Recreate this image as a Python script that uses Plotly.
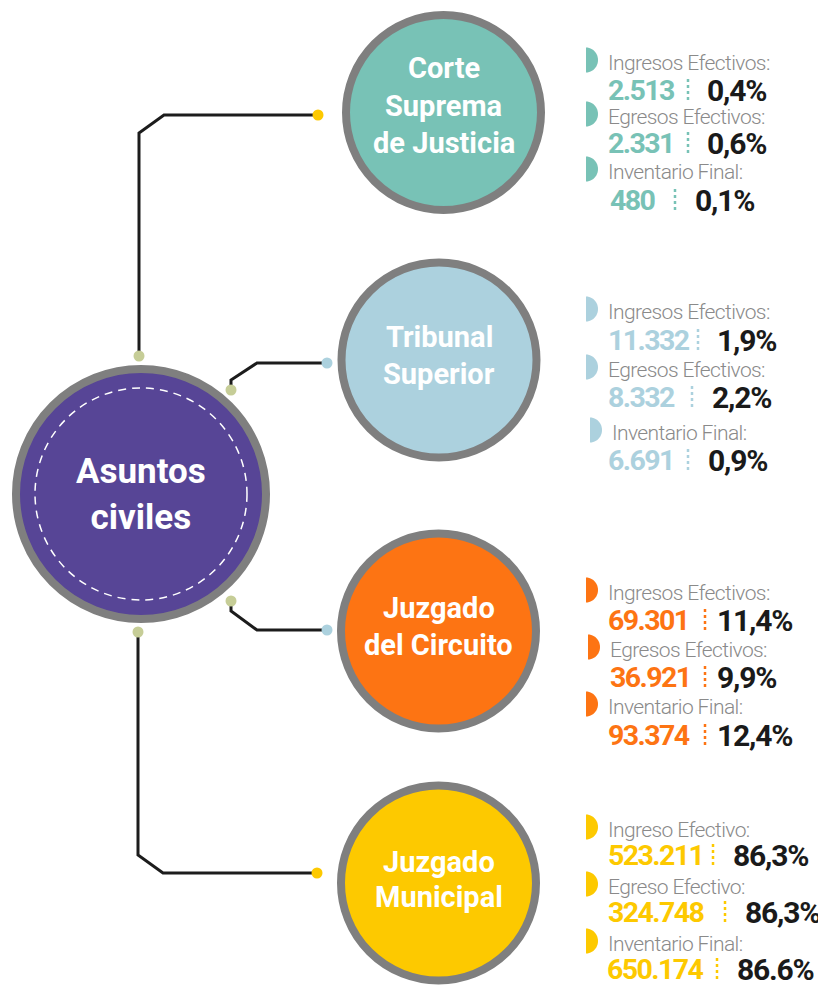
import numpy as np
import plotly.graph_objects as go

# ---------------- data ----------------
main_title = "Asuntos<br>civiles"
courts = ["Corte<br>Suprema<br>de Justicia", "Tribunal<br>Superior",
          "Juzgado<br>del Circuito", "Juzgado<br>Municipal"]
court_colors = ["#78c2b6", "#acd1de", "#fd7413", "#fdc900"]
stat_labels = [
    ["Ingresos Efectivos:", "Egresos Efectivos:", "Inventario Final:"],
    ["Ingresos Efectivos:", "Egresos Efectivos:", "Inventario Final:"],
    ["Ingresos Efectivos:", "Egresos Efectivos:", "Inventario Final:"],
    ["Ingreso Efectivo:", "Egreso Efectivo:", "Inventario Final:"],
]
stat_values = [
    ["2.513", "2.331", "480"],
    ["11.332", "8.332", "6.691"],
    ["69.301", "36.921", "93.374"],
    ["523.211", "324.748", "650.174"],
]
stat_pcts = [
    ["0,4%", "0,6%", "0,1%"],
    ["1,9%", "2,2%", "0,9%"],
    ["11,4%", "9,9%", "12,4%"],
    ["86,3%", "86,3%", "86.6%"],
]

# ---------------- layout (pixel positions in the 826x987 window) ----------------
W, H = 826, 987
PAGE_MARGIN = 8  # default body margin of the html page
BOLD = "Roboto, sans-serif"
LIGHT = "Roboto, sans-serif"
RING = "#7f7f7f"
DOT_GREEN = "#c6cd97"
LINE = "#1c1c1c"

main_c, main_r = (141, 494), 129
court_c = [(443.5, 112.5), (439, 360), (438.5, 631), (438.5, 883)]
court_r = 101.5
court_text_y = [[68, 106, 143], [337, 374], [608, 645], [862, 897]]

label_y = [[63, 117, 172], [312, 370, 433], [593, 650, 707], [830, 887, 944]]
value_y = [[90, 143, 200], [340, 397, 460], [620, 677, 735], [855, 912, 969]]
label_x = [[608, 608, 608], [608, 608, 612], [608, 610, 608], [608, 608, 608]]
value_x = [[608, 608, 610], [608, 608, 608], [608, 610, 608], [608, 608, 607]]
sep_x = [[688, 688, 675], [698, 692, 688], [705, 705, 705], [713, 725, 717]]
pct_x = [[707, 707, 695], [717, 712, 708], [717, 717, 717], [733, 745, 737]]


def tight(txt, spacing, bold=False):
    inner = "<b>" + txt + "</b>" if bold else txt
    return f"<span style='letter-spacing:{spacing}px'>{inner}</span>"


fig = go.Figure()
shapes = []
annotations = []

# connectors
connectors = [
    ([139, 139, 164, 318], [356, 133, 115, 115], DOT_GREEN, court_colors[3]),
    ([231, 231, 257, 327], [390, 380, 363, 363], DOT_GREEN, court_colors[1]),
    ([231, 231, 257, 327], [601, 611, 630, 630], DOT_GREEN, court_colors[1]),
    ([138, 138, 163, 317], [632, 855, 873, 873], DOT_GREEN, court_colors[3]),
]
for xs, ys, c0, c1 in connectors:
    fig.add_trace(go.Scatter(x=xs, y=ys, mode="lines",
                             line=dict(color=LINE, width=3), hoverinfo="skip",
                             showlegend=False))
    fig.add_trace(go.Scatter(x=[xs[0], xs[-1]], y=[ys[0], ys[-1]], mode="markers",
                             marker=dict(size=11, color=[c0, c1]),
                             hoverinfo="skip", showlegend=False))

# main circle
mx, my = main_c
shapes.append(dict(type="circle", xref="x", yref="y", x0=mx - main_r + 4, x1=mx + main_r - 4,
                   y0=my - main_r + 4, y1=my + main_r - 4, fillcolor="#574596",
                   line=dict(color=RING, width=8), layer="above"))
shapes.append(dict(type="circle", xref="x", yref="y", x0=mx - 106, x1=mx + 106,
                   y0=my - 106, y1=my + 106, fillcolor="rgba(0,0,0,0)",
                   line=dict(color="white", width=1.5, dash="8px,6px"), layer="above"))
annotations.append(dict(x=mx, y=my, xref="x", yref="y", text="<b>" + main_title + "</b>",
                        showarrow=False, font=dict(family=BOLD, size=35, color="white"),
                        align="center", xanchor="center", yanchor="middle"))

# court circles
for i, name in enumerate(courts):
    cx, cy = court_c[i]
    shapes.append(dict(type="circle", xref="x", yref="y", x0=cx - court_r + 4, x1=cx + court_r - 4,
                       y0=cy - court_r + 4, y1=cy + court_r - 4, fillcolor=court_colors[i],
                       line=dict(color=RING, width=8), layer="above"))
    for line_txt, ty in zip(name.split("<br>"), court_text_y[i]):
        annotations.append(dict(x=cx, y=ty, xref="x", yref="y", text="<b>" + line_txt + "</b>",
                                showarrow=False, font=dict(family=BOLD, size=29, color="white"),
                                xanchor="center", yanchor="middle"))

    # stats
    for j in range(3):
        ly = label_y[i][j]
        lx = label_x[i][j]
        # half disk marker
        ang = np.linspace(-np.pi / 2, np.pi / 2, 25)
        px = lx - 22 + 12 * np.cos(ang)
        py = ly - 3 + 12.5 * np.sin(ang)
        path = "M " + " L ".join(f"{a:.2f},{b:.2f}" for a, b in zip(px, py)) + " Z"
        shapes.append(dict(type="path", xref="x", yref="y", path=path,
                           fillcolor=court_colors[i], line=dict(width=0)))
        annotations.append(dict(x=lx, y=ly, xref="x", yref="y",
                                text=tight(stat_labels[i][j], -0.6),
                                showarrow=False, xanchor="left", yanchor="middle",
                                borderpad=0, borderwidth=0,
                                font=dict(family=LIGHT, size=21, color="#8a8a8a", weight=300)))
        vy = value_y[i][j]
        annotations.append(dict(x=value_x[i][j], y=vy, xref="x", yref="y",
                                text=tight(stat_values[i][j], -1.6, bold=True),
                                showarrow=False, xanchor="left", yanchor="middle",
                                borderpad=0, borderwidth=0,
                                font=dict(family=BOLD, size=28.5, color=court_colors[i])))
        shapes.append(dict(type="line", xref="x", yref="y", x0=sep_x[i][j], x1=sep_x[i][j],
                           y0=vy - 11, y1=vy + 11,
                           line=dict(color=court_colors[i], width=2.5, dash="3px,3px")))
        annotations.append(dict(x=pct_x[i][j], y=vy, xref="x", yref="y",
                                text=tight(stat_pcts[i][j], -1.2, bold=True),
                                showarrow=False, xanchor="left", yanchor="middle",
                                borderpad=0, borderwidth=0,
                                font=dict(family=BOLD, size=30, color="#1a1a1a")))

# The page body has an 8px margin: shrink the figure and shift the ranges so
# that window pixel p corresponds to data coordinate p.
fig.update_layout(
    width=W - PAGE_MARGIN, height=H - PAGE_MARGIN, autosize=False,
    margin=dict(l=0, r=0, t=0, b=0),
    paper_bgcolor="white", plot_bgcolor="white",
    xaxis=dict(range=[PAGE_MARGIN, W], visible=False, fixedrange=True),
    yaxis=dict(range=[H, PAGE_MARGIN], visible=False, fixedrange=True),
    shapes=shapes, annotations=annotations, showlegend=False,
)
fig.write_html("out.html", config={"displayModeBar": False})
